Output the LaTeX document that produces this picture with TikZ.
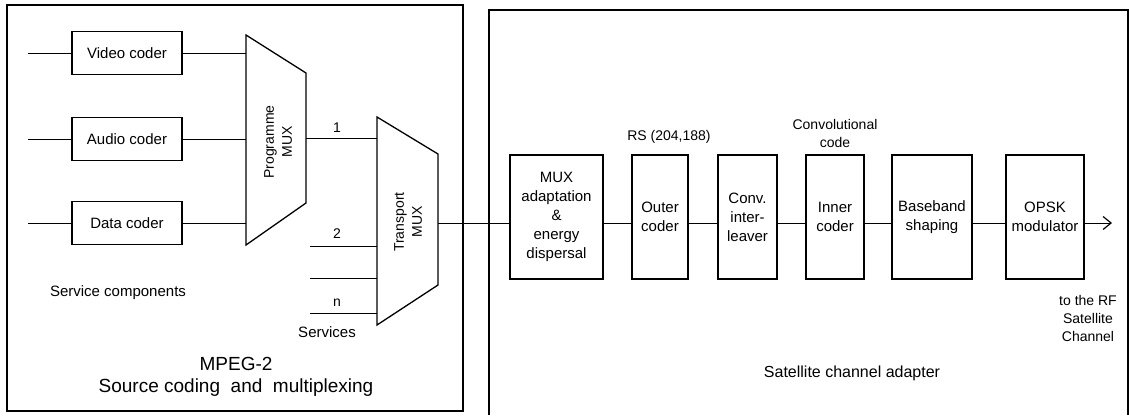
\documentclass[tikz,border=0pt]{standalone}
\usepackage{fontspec}
\setmainfont{Liberation Sans}
\usetikzlibrary{arrows.meta,calc}
\begin{document}
\begin{tikzpicture}[x=1pt,y=-1pt,
  frame/.style={draw, line width=1.4pt},
  blk/.style={draw, line width=1.3pt, minimum width=110pt, minimum height=43pt, inner sep=0pt, font=\fontsize{15}{19}\selectfont},
  vblk/.style={draw, line width=1.3pt, minimum height=124pt, inner sep=0pt, align=center, font=\fontsize{15}{19}\selectfont},
  mux/.style={draw, line width=1.3pt, line join=miter},
  wire/.style={line width=0.9pt},
  lbl/.style={font=\fontsize{14}{18}\selectfont, inner sep=0pt, align=center},
  big/.style={font=\fontsize{19}{24}\selectfont, inner sep=0pt}
]
\useasboundingbox (0,0) rectangle (1129,415);
% frames
\draw[frame] (7,5) rectangle (463,411);
\draw[frame] (489,415) -- (489,10) -- (1128,10) -- (1128,415);

% coders
\node[blk] (vid) at (127,53) {Video coder};
\node[blk] (aud) at (127,139) {Audio coder};
\node[blk] (dat) at (127,223) {Data coder};
\coordinate (iv) at (28,53);
\coordinate (ia) at (28,139);
\coordinate (id) at (28,223);
\draw[wire] (iv) -- (vid.west);
\draw[wire] (ia) -- (aud.west);
\draw[wire] (id) -- (dat.west);

% programme mux
\coordinate (pm1) at (246,35);
\coordinate (pm2) at (306,73);
\coordinate (pm3) at (306,203);
\coordinate (pm4) at (246,245);
\draw[mux] (pm1) -- (pm2) -- (pm3) -- (pm4) -- cycle;
\node[lbl, rotate=90] (pmx) at (278,142) {Programme\\MUX};
\draw[wire] (vid.east) -- (vid.east -| pm1);
\draw[wire] (aud.east) -- (aud.east -| pm1);
\draw[wire] (dat.east) -- (dat.east -| pm1);

% transport mux
\coordinate (tm1) at (377,117);
\coordinate (tm2) at (438,154);
\coordinate (tm3) at (438,285);
\coordinate (tm4) at (377,325);
\draw[mux] (tm1) -- (tm2) -- (tm3) -- (tm4) -- cycle;
\node[lbl, rotate=90] (tmx) at (408,222) {Transport\\MUX};
\coordinate (p1) at (306,138);
\draw[wire] (p1) -- (p1 -| tm1);
\node[lbl] (l1) at (337,128) {1};
\coordinate (s2) at (310,246);
\coordinate (s3) at (310,278);
\coordinate (sn) at (310,313);
\draw[wire] (s2) -- (s2 -| tm1);
\draw[wire] (s3) -- (s3 -| tm1);
\draw[wire] (sn) -- (sn -| tm1);
\node[lbl] (l2) at (337,234) {2};
\node[lbl] (ln) at (337,303) {n};
\node[lbl, font=\fontsize{15}{18}\selectfont] (svc) at (327,332) {Services};
\node[lbl, font=\fontsize{15}{18}\selectfont] (scomp) at (118,293) {Service components};
\node[big] (mpeg) at (236,364) {MPEG-2};
\node[big] (src) at (236,388) {Source coding\ \ and\ \ multiplexing};

% satellite channel adapter
\coordinate (sig) at (0,223);
\node[vblk, minimum width=93pt] (adp) at (556.5,217) {MUX\\adaptation\\\&\\energy\\dispersal};
\node[vblk, minimum width=56pt] (out) at (660,217) {Outer\\coder};
\node[vblk, minimum width=59pt] (conv) at (747.5,217) {Conv.\\inter-\\leaver};
\node[vblk, minimum width=58pt] (inn) at (835,217) {Inner\\coder};
\node[vblk, minimum width=80pt] (bb) at (932,217) {Baseband\\shaping};
\node[vblk, minimum width=78pt] (qp) at (1045,217) {OPSK\\modulator};

\draw[wire] (tm2 |- sig) -- (adp.west |- sig);
\draw[wire] (adp.east |- sig) -- (out.west |- sig);
\draw[wire] (out.east |- sig) -- (conv.west |- sig);
\draw[wire] (conv.east |- sig) -- (inn.west |- sig);
\draw[wire] (inn.east |- sig) -- (bb.west |- sig);
\draw[wire] (bb.east |- sig) -- (qp.west |- sig);
\coordinate (outp) at (1112,223);
\draw[wire, -{Straight Barb[length=8pt,width=13pt,line width=1.2pt]}] (qp.east |- sig) -- (outp);

\node[lbl] (rs) at (669,137) {RS (204,188)};
\node[lbl] (cc) at (835,133) {Convolutional\\code};
\node[lbl] (rf) at (1088,318) {to the RF\\Satellite\\Channel};
\node[big, font=\fontsize{16}{20}\selectfont] (sca) at (852,373) {Satellite channel adapter};
\end{tikzpicture}
\end{document}
